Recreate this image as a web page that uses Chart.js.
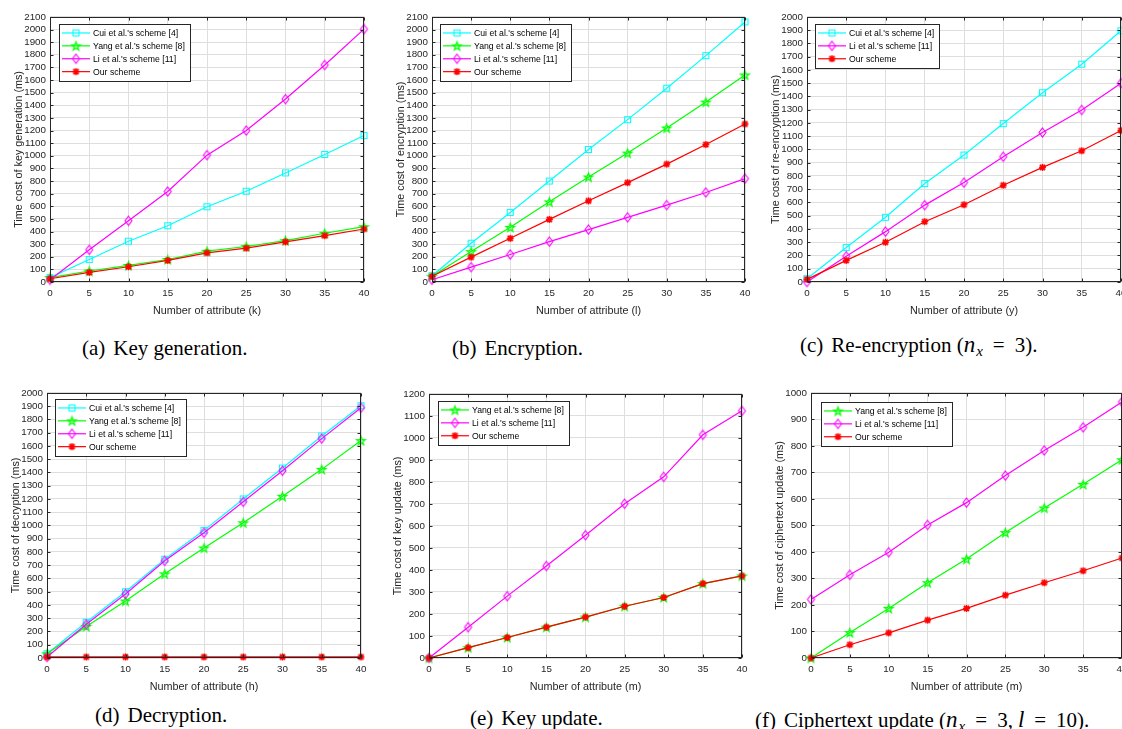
<!DOCTYPE html>
<html lang="en">
<head>
<meta charset="UTF-8">
<title>Time cost comparison</title>
<script src="https://cdn.jsdelivr.net/npm/chart.js"></script>
<style>
  body { margin: 0; width: 1122px; height: 729px; overflow: hidden; background: #fff; position: relative; }
  canvas { position: absolute; }
  .cap { position: absolute; font-family: "Liberation Serif", "Times New Roman", serif; font-size: 21px; line-height: 24px; color: #000; white-space: nowrap; }
  .cap .lbl { margin-right: 8px; }
  .cap .m { font-style: italic; font-size: 23px; }
  .cap .eq { margin: 0 10px; }
  .cap .cm { margin-right: 5px; }
  .cap sub { font-size: 15px; line-height: 0; vertical-align: -4px; margin-left: 1px; }
</style>
</head>
<body>
<canvas id="ca"></canvas>
<canvas id="cb"></canvas>
<canvas id="cc"></canvas>
<canvas id="cd"></canvas>
<canvas id="ce"></canvas>
<canvas id="cf"></canvas>

<div class="cap" style="left:82px;top:336px"><span class="lbl">(a)</span>Key generation.</div>
<div class="cap" style="left:452px;top:336px"><span class="lbl">(b)</span>Encryption.</div>
<div class="cap" style="left:800px;top:333px"><span class="lbl">(c)</span>Re-encryption (<span class="m">n<sub>x</sub></span><span class="eq">=</span>3).</div>
<div class="cap" style="left:95px;top:703px"><span class="lbl">(d)</span>Decryption.</div>
<div class="cap" style="left:470px;top:706px"><span class="lbl">(e)</span>Key update.</div>
<div class="cap" style="left:755px;top:708px"><span class="lbl">(f)</span>Ciphertext update (<span class="m">n<sub>x</sub></span><span class="eq">=</span>3<span class="cm">,</span><span class="m">l</span><span class="eq">=</span>10).</div>

<script>
    // number of attributes on every x axis
    const attrs = [0, 5, 10, 15, 20, 25, 30, 35, 40];

    // (a) key generation
    const keyGenCui  = [35, 178, 323, 446, 596, 719, 864, 1010, 1160];
    const keyGenYang = [35, 87, 131, 178, 244, 281, 328, 386, 438];
    const keyGenLi   = [18, 255, 485, 717, 1005, 1200, 1449, 1719, 2003];
    const keyGenOurs = [26, 76, 121, 171, 231, 268, 318, 367, 420];

    // (b) encryption
    const encCui  = [50, 307, 551, 800, 1050, 1286, 1535, 1793, 2060];
    const encYang = [45, 241, 433, 635, 832, 1021, 1220, 1425, 1640];
    const encLi   = [18, 118, 218, 320, 415, 512, 609, 709, 819];
    const encOurs = [45, 197, 346, 496, 643, 787, 934, 1089, 1252];

    // (c) re-encryption
    const reEncCui  = [25, 260, 488, 743, 958, 1195, 1428, 1643, 1895];
    const reEncLi   = [0, 195, 380, 580, 750, 945, 1128, 1298, 1500];
    const reEncOurs = [20, 163, 300, 455, 583, 730, 865, 990, 1143];

    // (d) decryption
    const decCui  = [32, 270, 500, 745, 963, 1200, 1433, 1675, 1903];
    const decYang = [32, 238, 430, 635, 830, 1020, 1220, 1423, 1640];
    const decLi   = [8, 255, 483, 733, 945, 1178, 1413, 1655, 1888];
    const decOurs = [8, 8, 8, 8, 8, 8, 8, 8, 8];

    // (e) key update
    const keyUpdYang = [0, 47, 93, 140, 186, 235, 275, 338, 373];
    const keyUpdLi   = [0, 140, 281, 418, 558, 701, 823, 1014, 1123];
    const keyUpdOurs = [0, 47, 93, 140, 186, 235, 275, 338, 373];

    // (f) ciphertext update
    const ctUpdYang = [0, 96, 187, 284, 373, 473, 566, 655, 748];
    const ctUpdLi   = [221, 314, 399, 502, 586, 688, 783, 870, 966];
    const ctUpdOurs = [0, 50, 95, 143, 187, 237, 284, 329, 377];

    const yMax = { a: 2100, b: 2100, c: 2000, d: 2000, e: 1200, f: 1000 };

    const CYAN = '#00ffff', GREEN = '#00ff00', MAGENTA = '#ff00ff', RED = '#ff0000';
    const FONT = '"Liberation Sans", Arial, Helvetica, sans-serif';
    Chart.defaults.font.family = FONT;

    // matlab-like markers drawn onto small canvases
    function makeMarker(kind, color) {
        const c = document.createElement('canvas');
        c.width = 13; c.height = 13;
        const g = c.getContext('2d');
        g.strokeStyle = color;
        g.lineWidth = 1.1;
        const m = 6.5;
        g.beginPath();
        if (kind === 'square') {
            g.rect(3.5, 3.5, 6, 6);
        } else if (kind === 'diamond') {
            g.moveTo(m, 2); g.lineTo(m + 3.5, m); g.lineTo(m, 11); g.lineTo(m - 3.5, m); g.closePath();
        } else if (kind === 'pentagram') {
            for (let i = 0; i < 10; i++) {
                const r = i % 2 ? 1.8 : 4.4;
                const ang = -Math.PI / 2 + i * Math.PI / 5;
                const px = m + r * Math.cos(ang), py = m + 0.5 + r * Math.sin(ang);
                if (i === 0) g.moveTo(px, py); else g.lineTo(px, py);
            }
            g.closePath();
            g.lineWidth = 1.3;
        } else {
            g.lineWidth = 1.6;
            g.moveTo(m - 3.5, m); g.lineTo(m + 3.5, m);
            g.moveTo(m, m - 3.5); g.lineTo(m, m + 3.5);
            g.moveTo(m - 2.6, m - 2.6); g.lineTo(m + 2.6, m + 2.6);
            g.moveTo(m - 2.6, m + 2.6); g.lineTo(m + 2.6, m - 2.6);
        }
        g.stroke();
        return c;
    }

    const styles = {
        cui:  { label: "Cui et al.'s scheme [4]",   color: CYAN,    marker: makeMarker('square', CYAN),     order: 4 },
        yang: { label: "Yang et al.'s scheme [8]",  color: GREEN,   marker: makeMarker('pentagram', GREEN), order: 3 },
        li:   { label: "Li et al.'s scheme [11]",   color: MAGENTA, marker: makeMarker('diamond', MAGENTA), order: 2 },
        ours: { label: 'Our scheme',                color: RED,     marker: makeMarker('asterisk', RED),    order: 1 }
    };

    function series(key, values) {
        const s = styles[key];
        return {
            label: s.label,
            data: attrs.map((x, i) => ({ x: x, y: values[i] })),
            borderColor: s.color,
            backgroundColor: s.color,
            borderWidth: 1.2,
            pointStyle: s.marker,
            pointRadius: 5,
            tension: 0,
            fill: false,
            clip: false,
            order: s.order
        };
    }

    // axes box with inward ticks, like matlab
    const framePlugin = {
        id: 'frame',
        afterDraw(chart) {
            const { ctx, chartArea: a, scales } = chart;
            const l = Math.round(a.left) + 0.5, t = Math.round(a.top) + 0.5;
            const r = Math.round(a.right) - 0.5, b = Math.round(a.bottom) - 0.5;
            ctx.save();
            ctx.strokeStyle = '#262626';
            ctx.lineWidth = 1;
            ctx.strokeRect(l, t, r - l, b - t);
            ctx.beginPath();
            scales.x.ticks.forEach(tk => {
                const px = Math.round(scales.x.getPixelForValue(tk.value)) + 0.5;
                ctx.moveTo(px, b); ctx.lineTo(px, b - 3);
                ctx.moveTo(px, t); ctx.lineTo(px, t + 3);
            });
            scales.y.ticks.forEach(tk => {
                const py = Math.round(scales.y.getPixelForValue(tk.value)) + 0.5;
                ctx.moveTo(l, py); ctx.lineTo(l + 3, py);
                ctx.moveTo(r, py); ctx.lineTo(r - 3, py);
            });
            ctx.stroke();
            ctx.restore();
        }
    };

    // legend box inside the plot area
    const boxLegend = {
        id: 'boxLegend',
        afterDraw(chart, args, opts) {
            const ctx = chart.ctx, a = chart.chartArea;
            const items = chart.data.datasets;
            ctx.save();
            ctx.font = '8.7px ' + FONT;
            const tw = Math.max(...items.map(d => ctx.measureText(d.label).width));
            const x0 = Math.round(a.left + opts.dx), y0 = Math.round(a.top + opts.dy);
            const rowH = 12.9;
            const w = Math.round(34 + tw + 5), h = Math.round(items.length * rowH + 5);
            ctx.fillStyle = '#fff';
            ctx.fillRect(x0, y0, w, h);
            ctx.strokeStyle = '#262626';
            ctx.lineWidth = 1;
            ctx.strokeRect(x0 + 0.5, y0 + 0.5, w, h);
            items.forEach((d, i) => {
                const cy = y0 + 2.5 + rowH / 2 + i * rowH;
                ctx.strokeStyle = d.borderColor;
                ctx.lineWidth = d.borderWidth;
                ctx.beginPath();
                ctx.moveTo(x0 + 3, cy); ctx.lineTo(x0 + 31, cy);
                ctx.stroke();
                const img = d.pointStyle;
                ctx.drawImage(img, x0 + 17 - img.width / 2, cy - img.height / 2);
                ctx.fillStyle = '#000';
                ctx.textBaseline = 'middle';
                ctx.fillText(d.label, x0 + 34, cy + 0.5);
            });
            ctx.restore();
        }
    };

    function makeChart(id, box, datasets, yMaxVal, xTitle, yTitle, legendPos) {
        const canvas = document.getElementById(id);
        canvas.width = (box.R - box.L) + 70;
        canvas.height = (box.B - box.T) + 8 + 36;
        canvas.style.left = (box.L - 50) + 'px';
        canvas.style.top = (box.T - 8) + 'px';
        const tickFont = { size: 9.8 };
        const titleFont = { size: 10.8 };
        return new Chart(canvas.getContext('2d'), {
            type: 'line',
            data: { datasets: datasets },
            plugins: [framePlugin, boxLegend],
            options: {
                responsive: false,
                animation: false,
                layout: { padding: { left: 0, top: 8, right: 20, bottom: 0 } },
                plugins: {
                    legend: { display: false },
                    tooltip: { enabled: false },
                    boxLegend: legendPos
                },
                scales: {
                    x: {
                        type: 'linear',
                        min: 0,
                        max: 40,
                        ticks: { stepSize: 5, color: '#262626', font: tickFont, padding: 5, maxRotation: 0, autoSkip: false,
                                 callback: v => String(v) },
                        grid: { color: '#dedede', drawTicks: false },
                        border: { display: false },
                        title: { display: true, text: xTitle, color: '#262626', font: titleFont, padding: { top: 4, bottom: 0 } },
                        afterFit: s => { s.height = 36; }
                    },
                    y: {
                        min: 0,
                        max: yMaxVal,
                        ticks: { stepSize: 100, color: '#262626', font: tickFont, padding: 4, autoSkip: false,
                                 callback: v => String(v) },
                        grid: { color: '#dedede', drawTicks: false },
                        border: { display: false },
                        title: { display: true, text: yTitle, color: '#262626', font: titleFont, padding: { top: 13, bottom: 0 } },
                        afterFit: s => { s.width = 50; }
                    }
                }
            }
        });
    }

    makeChart('ca', { L: 50, T: 15, R: 364, B: 282 },
        [series('cui', keyGenCui), series('yang', keyGenYang), series('li', keyGenLi), series('ours', keyGenOurs)],
        yMax.a, 'Number of attribute (k)', 'Time cost of key generation (ms)', { dx: 9, dy: 7 });

    makeChart('cb', { L: 432, T: 15, R: 745, B: 282 },
        [series('cui', encCui), series('yang', encYang), series('li', encLi), series('ours', encOurs)],
        yMax.b, 'Number of attribute (l)', 'Time cost of encryption (ms)', { dx: 8, dy: 7 });

    makeChart('cc', { L: 807, T: 15, R: 1121, B: 282 },
        [series('cui', reEncCui), series('li', reEncLi), series('ours', reEncOurs)],
        yMax.c, 'Number of attribute (y)', 'Time cost of re-encryption (ms)', { dx: 8, dy: 7 });

    makeChart('cd', { L: 47, T: 391, R: 361, B: 658 },
        [series('cui', decCui), series('yang', decYang), series('li', decLi), series('ours', decOurs)],
        yMax.d, 'Number of attribute (h)', 'Time cost of decryption (ms)', { dx: 8, dy: 6 });

    makeChart('ce', { L: 429, T: 392, R: 742, B: 658 },
        [series('yang', keyUpdYang), series('li', keyUpdLi), series('ours', keyUpdOurs)],
        yMax.e, 'Number of attribute (m)', 'Time cost of key update (ms)', { dx: 9, dy: 7 });

    makeChart('cf', { L: 811, T: 391, R: 1122, B: 658 },
        [series('yang', ctUpdYang), series('li', ctUpdLi), series('ours', ctUpdOurs)],
        yMax.f, 'Number of attribute (m)', 'Time cost of ciphertext update (ms)', { dx: 10, dy: 9 });
</script>
</body>
</html>
